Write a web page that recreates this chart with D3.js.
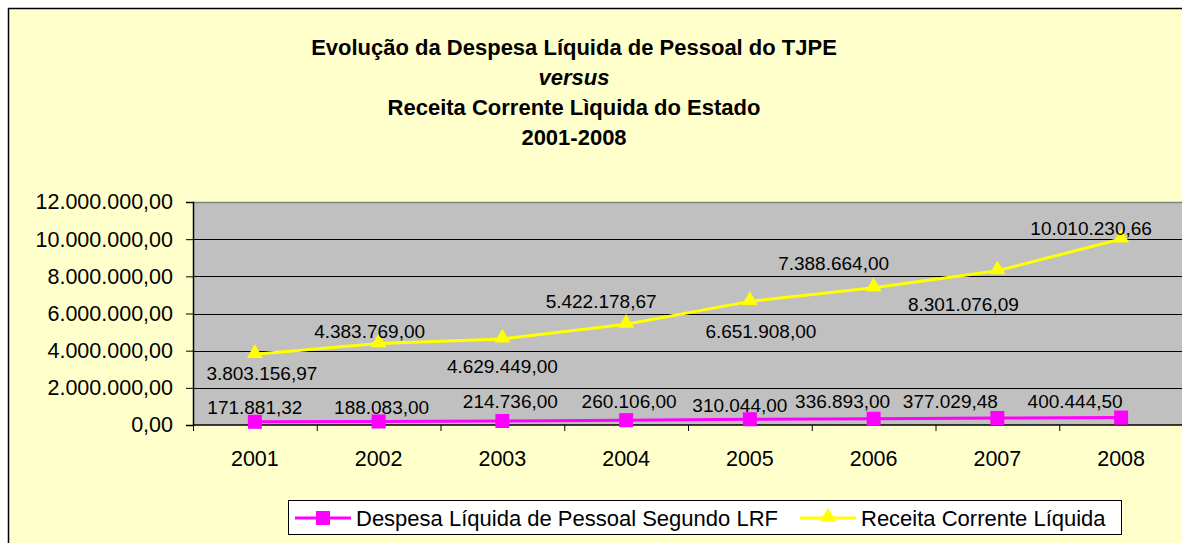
<!DOCTYPE html>
<html>
<head>
<meta charset="utf-8">
<script src="https://cdn.jsdelivr.net/npm/d3@7"></script>
<style>
  html, body { margin: 0; padding: 0; background: #fff; overflow: hidden; width: 1182px; height: 543px; }
  #chart { position: absolute; left: 0; top: 0; }
  svg { display: block; }
  text { font-family: 'Liberation Sans', Arial, sans-serif; fill: #000; }
</style>
</head>
<body>
<div id="chart"></div>
<script>
let years = ['2001', '2002', '2003', '2004', '2005', '2006', '2007', '2008']
let despesa = [171881.32, 188083.0, 214736.0, 260106.0, 310044.0, 336893.0, 377029.48, 400444.5]
let receita = [3803156.97, 4383769.0, 4629449.0, 5422178.67, 6651908.0, 7388664.0, 8301076.09, 10010230.66]
let yTicks = [0, 2000000, 4000000, 6000000, 8000000, 10000000, 12000000]
let titleLines = ['Evolução da Despesa Líquida de Pessoal do TJPE', 'versus', 'Receita Corrente Lìquida do Estado', '2001-2008']
let seriesNames = ['Despesa Líquida de Pessoal Segundo LRF', 'Receita Corrente Líquida']

// label nudges (pixels from the point), as placed in the original sheet
let despesaLabelDx = [0, 3, 8, 3, -10, -31, -47, -46]
let despesaLabelDy = [-8, -8, -13, -12, -7, -11, -10, -10]
let receitaLabelDx = [7, -9, 0, -25, 11, -40, -34, -30]
let receitaLabelDy = [26, -6, 34, -16, 37, -18, 40, -4]

let width = 1182
let height = 543
let plot = { left: 193, top: 202, right: 1183, bottom: 425 }

let locale = d3.formatLocale({ decimal: ',', thousands: '.', grouping: [3], currency: ['', ''] })
let fmt = locale.format(',.2f')

let svg = d3.select('#chart')
  .append('svg')
  .attr('width', width)
  .attr('height', height)

// chart area
svg.append('rect')
  .attr('x', 8.5)
  .attr('y', 8.5)
  .attr('width', width + 10)
  .attr('height', height + 10)
  .attr('fill', '#ffffcc')
  .attr('stroke', '#000')
  .attr('stroke-width', 1.5)

let x = d3.scaleBand().domain(years).range([plot.left, plot.right])
let y = d3.scaleLinear().domain([0, 12000000]).range([plot.bottom, plot.top])
let cx = d => x(d) + x.bandwidth() / 2

svg.append('rect')
  .attr('x', plot.left)
  .attr('y', plot.top)
  .attr('width', plot.right - plot.left)
  .attr('height', plot.bottom - plot.top)
  .attr('fill', '#c0c0c0')

svg.append('line')
  .attr('x1', plot.left).attr('x2', plot.right)
  .attr('y1', plot.top + 0.5).attr('y2', plot.top + 0.5)
  .attr('stroke', '#808080')
  .attr('stroke-width', 1.5)

svg.selectAll('.grid')
  .data(yTicks.slice(1, -1))
  .enter()
  .append('line')
  .attr('x1', plot.left).attr('x2', plot.right)
  .attr('y1', d => Math.round(y(d)) + 0.5)
  .attr('y2', d => Math.round(y(d)) + 0.5)
  .attr('stroke', '#000')

// y axis
let yAxis = d3.axisLeft(y).tickValues(yTicks).tickFormat(fmt).tickSize(7).tickPadding(13)
let yg = svg.append('g')
  .attr('transform', `translate(${plot.left},0)`)
  .call(yAxis)
yg.select('.domain').attr('stroke', '#000').attr('stroke-width', 1.5)
yg.selectAll('.tick line').attr('stroke', '#000')
yg.selectAll('.tick text')
  .attr('font-size', 21.5)
  .attr('font-family', "'Liberation Sans', Arial, sans-serif")
  .attr('fill', '#000')

// x axis
let xg = svg.append('g')
  .attr('transform', `translate(0,${plot.bottom})`)
xg.append('line')
  .attr('x1', plot.left).attr('x2', plot.right)
  .attr('stroke', '#000').attr('stroke-width', 1.5)
xg.selectAll('.xtick')
  .data(years)
  .enter()
  .append('line')
  .attr('x1', d => x(d) + 0.5).attr('x2', d => x(d) + 0.5)
  .attr('y1', 0).attr('y2', 6)
  .attr('stroke', '#000')
xg.selectAll('.xlabel')
  .data(years)
  .enter()
  .append('text')
  .attr('x', d => cx(d))
  .attr('y', 41)
  .attr('text-anchor', 'middle')
  .attr('font-size', 21.5)
  .text(d => d)

// lines
let valueLine = d3.line().x((d, i) => cx(years[i])).y(d => y(d))

svg.append('path')
  .datum(receita)
  .attr('d', valueLine)
  .attr('fill', 'none')
  .attr('stroke', '#ffff00')
  .attr('stroke-width', 3)

svg.append('path')
  .datum(despesa)
  .attr('d', valueLine)
  .attr('fill', 'none')
  .attr('stroke', '#ff00ff')
  .attr('stroke-width', 3)

let triangle = d3.symbol().type(d3.symbolTriangle).size(110)

svg.selectAll('.tri')
  .data(receita)
  .enter()
  .append('path')
  .attr('d', triangle)
  .attr('transform', (d, i) => `translate(${cx(years[i])},${y(d) - 1})`)
  .attr('fill', '#ffff00')

svg.selectAll('.sq')
  .data(despesa)
  .enter()
  .append('rect')
  .attr('x', (d, i) => cx(years[i]) - 7)
  .attr('y', d => y(d) - 7)
  .attr('width', 14)
  .attr('height', 14)
  .attr('fill', '#ff00ff')

// data labels
svg.selectAll('.rlabel')
  .data(receita)
  .enter()
  .append('text')
  .attr('x', (d, i) => cx(years[i]) + receitaLabelDx[i])
  .attr('y', (d, i) => y(d) + receitaLabelDy[i])
  .attr('text-anchor', 'middle')
  .attr('font-size', 19)
  .text(d => fmt(d))

svg.selectAll('.dlabel')
  .data(despesa)
  .enter()
  .append('text')
  .attr('x', (d, i) => cx(years[i]) + despesaLabelDx[i])
  .attr('y', (d, i) => y(d) + despesaLabelDy[i])
  .attr('text-anchor', 'middle')
  .attr('font-size', 19)
  .text(d => fmt(d))

// title
svg.selectAll('.title')
  .data(titleLines)
  .enter()
  .append('text')
  .attr('x', 574)
  .attr('y', (d, i) => 55 + i * 30)
  .attr('text-anchor', 'middle')
  .attr('font-size', 22)
  .attr('font-weight', 'bold')
  .attr('font-style', (d, i) => (i === 1 ? 'italic' : 'normal'))
  .text(d => d)

// legend
let legend = svg.append('g')
legend.append('rect')
  .attr('x', 288.5)
  .attr('y', 500.5)
  .attr('width', 833)
  .attr('height', 34)
  .attr('fill', '#fff')
  .attr('stroke', '#000')

let legendX = [295, 800]
let legendColors = ['#ff00ff', '#ffff00']

legendX.forEach((lx, i) => {
  legend.append('line')
    .attr('x1', lx).attr('x2', lx + 56)
    .attr('y1', 518).attr('y2', 518)
    .attr('stroke', legendColors[i])
    .attr('stroke-width', 3)
  if (i === 0) {
    legend.append('rect')
      .attr('x', lx + 28 - 7).attr('y', 511)
      .attr('width', 14).attr('height', 14)
      .attr('fill', legendColors[i])
  } else {
    legend.append('path')
      .attr('d', triangle)
      .attr('transform', `translate(${lx + 28},517)`)
      .attr('fill', legendColors[i])
  }
  legend.append('text')
    .attr('x', lx + 61)
    .attr('y', 526)
    .attr('font-size', 22)
    .text(seriesNames[i])
})
</script>
</body>
</html>
